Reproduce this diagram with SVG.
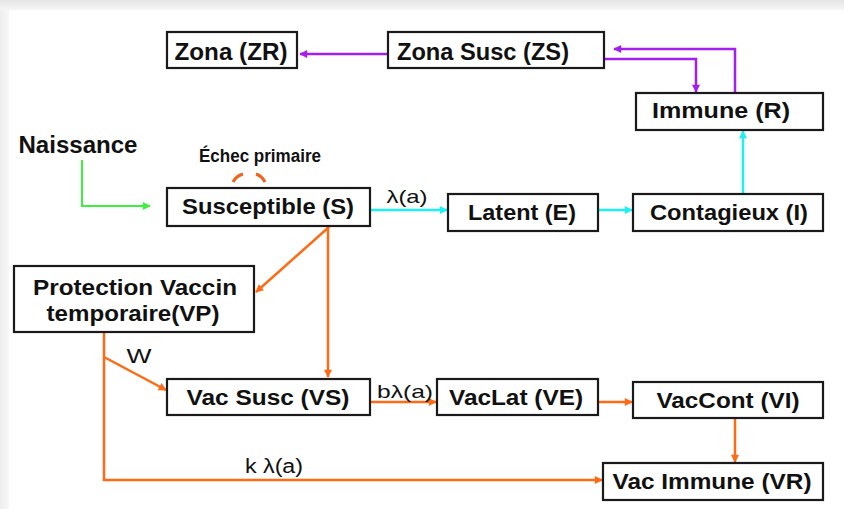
<svg xmlns="http://www.w3.org/2000/svg" width="844" height="509" viewBox="0 0 844 509">
  <defs>
    <style>
      .box { fill: #ffffff; stroke: #1a1a1a; stroke-width: 2.2; }
      .lbl { font-family: "Liberation Sans", Arial, sans-serif; font-weight: bold; fill: #111111; text-anchor: middle; }
      .rate { font-family: "Liberation Sans", Arial, sans-serif; fill: #111111; text-anchor: middle; }
      .purple { fill: none; stroke: #a21ff0; stroke-width: 2.5; }
      .cyan { fill: none; stroke: #1ef0f4; stroke-width: 2.5; }
      .green { fill: none; stroke: #3df03d; stroke-width: 2; }
      .orange { fill: none; stroke: #ff6a14; stroke-width: 2.5; }
    </style>
    <marker id="ah-purple" viewBox="0 0 10 10" refX="9" refY="5" markerWidth="9" markerHeight="8" markerUnits="userSpaceOnUse" orient="auto">
      <path d="M0,0 L10,5 L0,10 Z" fill="#a21ff0"/>
    </marker>
    <marker id="ah-cyan" viewBox="0 0 10 10" refX="9" refY="5" markerWidth="9" markerHeight="8" markerUnits="userSpaceOnUse" orient="auto">
      <path d="M0,0 L10,5 L0,10 Z" fill="#1ef0f4"/>
    </marker>
    <marker id="ah-green" viewBox="0 0 10 10" refX="9" refY="5" markerWidth="9" markerHeight="8" markerUnits="userSpaceOnUse" orient="auto">
      <path d="M0,0 L10,5 L0,10 Z" fill="#3df03d"/>
    </marker>
    <marker id="ah-orange" viewBox="0 0 10 10" refX="9" refY="5" markerWidth="9" markerHeight="8" markerUnits="userSpaceOnUse" orient="auto">
      <path d="M0,0 L10,5 L0,10 Z" fill="#ff6a14"/>
    </marker>
    <linearGradient id="topShade" x1="0" y1="0" x2="0" y2="1">
      <stop offset="0" stop-color="#e4e4e4"/>
      <stop offset="1" stop-color="#f6f6f6"/>
    </linearGradient>
    <linearGradient id="leftShade" x1="0" y1="0" x2="1" y2="0">
      <stop offset="0" stop-color="#eeeeee"/>
      <stop offset="1" stop-color="#f7f7f7"/>
    </linearGradient>
  </defs>

  <!-- page background with soft frame at top and left -->
  <rect x="0" y="0" width="844" height="509" fill="#ffffff"/>
  <rect x="0" y="0" width="844" height="10" fill="url(#topShade)"/>
  <rect x="0" y="10" width="9" height="499" fill="url(#leftShade)"/>

  <!-- connectors -->
  <g id="connectors">
    <!-- zona transitions -->
    <line class="purple" x1="388" y1="54" x2="300" y2="54" marker-end="url(#ah-purple)"/>
    <polyline class="purple" points="735,92 735,49 614,49" marker-end="url(#ah-purple)"/>
    <polyline class="purple" points="605,59 696,59 696,92" marker-end="url(#ah-purple)"/>

    <!-- natural infection chain -->
    <line class="cyan" x1="370" y1="210" x2="447" y2="210" marker-end="url(#ah-cyan)"/>
    <line class="cyan" x1="598" y1="210" x2="632" y2="210" marker-end="url(#ah-cyan)"/>
    <line class="cyan" x1="743" y1="193" x2="743" y2="131" marker-end="url(#ah-cyan)"/>

    <!-- births -->
    <polyline class="green" points="82,160 82,206 150,206" marker-end="url(#ah-green)"/>

    <!-- primary vaccine failure loop -->
    <path d="M233,182 Q236,176 243,174" fill="none" stroke="#f0641e" stroke-width="3"/>
    <path d="M256,174 Q262,176 265,182" fill="none" stroke="#f0641e" stroke-width="3"/>

    <!-- vaccination branches -->
    <line class="orange" x1="329" y1="227" x2="256" y2="292" marker-end="url(#ah-orange)"/>
    <line class="orange" x1="328" y1="226" x2="328" y2="377" marker-end="url(#ah-orange)"/>
    <polyline class="orange" points="104,332 104,480 602,480" marker-end="url(#ah-orange)"/>
    <line class="orange" x1="104" y1="357" x2="166" y2="390" marker-end="url(#ah-orange)"/>

    <!-- vaccinated infection chain -->
    <line class="orange" x1="370" y1="402" x2="436" y2="402" marker-end="url(#ah-orange)"/>
    <line class="orange" x1="598" y1="402" x2="632" y2="402" marker-end="url(#ah-orange)"/>
    <line class="orange" x1="735" y1="418" x2="735" y2="462" marker-end="url(#ah-orange)"/>

    <!-- rate labels -->
    <text class="rate" x="407" y="203" font-size="19" textLength="41" lengthAdjust="spacingAndGlyphs">λ(a)</text>
    <text class="rate" x="405" y="398" font-size="19" textLength="56" lengthAdjust="spacingAndGlyphs">bλ(a)</text>
    <text class="rate" x="274" y="473" font-size="20" textLength="58" lengthAdjust="spacingAndGlyphs">k λ(a)</text>
    <text class="rate" x="139" y="363" font-size="21" textLength="25" lengthAdjust="spacingAndGlyphs">W</text>
  </g>

  <!-- free labels -->
  <g id="naissance">
    <text class="lbl" x="78" y="153" font-size="23" textLength="119" lengthAdjust="spacingAndGlyphs">Naissance</text>
  </g>
  <g id="echec-primaire">
    <text class="lbl" x="260" y="162" font-size="18" textLength="122" lengthAdjust="spacingAndGlyphs">Échec primaire</text>
  </g>

  <!-- compartments -->
  <g id="node-ZR">
    <rect class="box" x="167" y="32" width="130" height="36"/>
    <text class="lbl" x="231" y="60" font-size="23" textLength="113" lengthAdjust="spacingAndGlyphs">Zona (ZR)</text>
  </g>
  <g id="node-ZS">
    <rect class="box" x="388" y="32" width="216" height="36"/>
    <text class="lbl" x="483" y="60" font-size="23" textLength="172" lengthAdjust="spacingAndGlyphs">Zona Susc (ZS)</text>
  </g>
  <g id="node-R">
    <rect class="box" x="636" y="93" width="187" height="37"/>
    <text class="lbl" x="721" y="118" font-size="22" textLength="138" lengthAdjust="spacingAndGlyphs">Immune (R)</text>
  </g>
  <g id="node-S">
    <rect class="box" x="167" y="188" width="203" height="38"/>
    <text class="lbl" x="268" y="214" font-size="22" textLength="172" lengthAdjust="spacingAndGlyphs">Susceptible (S)</text>
  </g>
  <g id="node-E">
    <rect class="box" x="448" y="194" width="150" height="37"/>
    <text class="lbl" x="522" y="220" font-size="22" textLength="108" lengthAdjust="spacingAndGlyphs">Latent (E)</text>
  </g>
  <g id="node-I">
    <rect class="box" x="633" y="194" width="190" height="37"/>
    <text class="lbl" x="729" y="220" font-size="22" textLength="158" lengthAdjust="spacingAndGlyphs">Contagieux (I)</text>
  </g>
  <g id="node-VP">
    <rect class="box" x="14" y="266" width="240" height="66"/>
    <text class="lbl" x="135" y="295" font-size="22" textLength="204" lengthAdjust="spacingAndGlyphs">Protection Vaccin</text>
    <text class="lbl" x="133" y="321" font-size="22" textLength="173" lengthAdjust="spacingAndGlyphs">temporaire(VP)</text>
  </g>
  <g id="node-VS">
    <rect class="box" x="167" y="379" width="203" height="36"/>
    <text class="lbl" x="268" y="405" font-size="22" textLength="163" lengthAdjust="spacingAndGlyphs">Vac Susc (VS)</text>
  </g>
  <g id="node-VE">
    <rect class="box" x="437" y="379" width="161" height="36"/>
    <text class="lbl" x="516" y="405" font-size="22" textLength="134" lengthAdjust="spacingAndGlyphs">VacLat (VE)</text>
  </g>
  <g id="node-VI">
    <rect class="box" x="633" y="382" width="190" height="36"/>
    <text class="lbl" x="728" y="408" font-size="22" textLength="143" lengthAdjust="spacingAndGlyphs">VacCont (VI)</text>
  </g>
  <g id="node-VR">
    <rect class="box" x="603" y="463" width="220" height="37"/>
    <text class="lbl" x="712" y="489" font-size="22" textLength="199" lengthAdjust="spacingAndGlyphs">Vac Immune (VR)</text>
  </g>
</svg>
